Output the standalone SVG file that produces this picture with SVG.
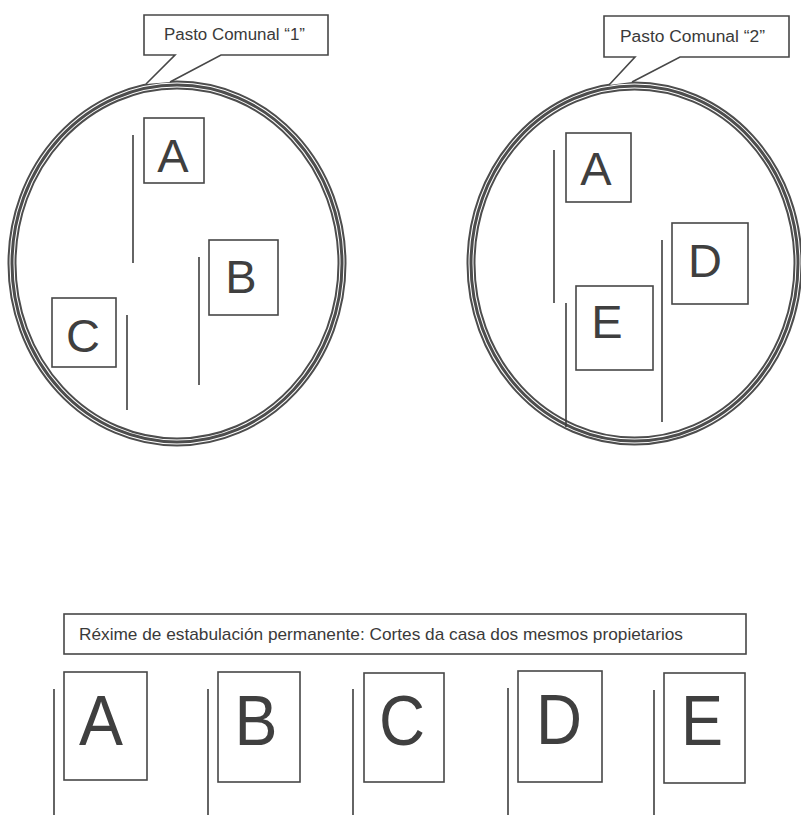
<svg xmlns="http://www.w3.org/2000/svg" width="801" height="815" viewBox="0 0 801 815">
<style>
.bg{fill:#ffffff}
.box{fill:#ffffff;stroke:#474747;stroke-width:1.6}
.call{fill:#ffffff;stroke:#474747;stroke-width:1.6;stroke-linejoin:miter}
.ringA{fill:none;stroke:#4d4d4d;stroke-width:9}
.ringB{fill:none;stroke:#ffffff;stroke-width:5}
.ringC{fill:none;stroke:#4d4d4d;stroke-width:3}
.ln{stroke:#3e3e3e;stroke-width:1.6;fill:none}
.lbl{font-family:"Liberation Sans",Arial,sans-serif;font-size:16px;fill:#3a3a3a}
.big{font-family:"Liberation Sans",Arial,sans-serif;font-size:47px;fill:#3f3f3f;text-anchor:middle}
.huge{font-family:"Liberation Sans",Arial,sans-serif;font-size:70px;fill:#3f3f3f;text-anchor:middle}
</style>
<rect class="bg" x="0" y="0" width="801" height="815"/>

<g id="pasto1">
  <ellipse class="ringA" cx="177" cy="263.5" rx="165" ry="178.5"/>
  <ellipse class="ringB" cx="177" cy="263.5" rx="165" ry="178.5"/>
  <ellipse class="ringC" cx="177" cy="263.5" rx="165" ry="178.5"/>
</g>
<g id="pasto2">
  <ellipse class="ringA" cx="634.5" cy="263.5" rx="163.5" ry="177.5"/>
  <ellipse class="ringB" cx="634.5" cy="263.5" rx="163.5" ry="177.5"/>
  <ellipse class="ringC" cx="634.5" cy="263.5" rx="163.5" ry="177.5"/>
</g>

<g id="label1">
  <path class="call" d="M146,84 L175,55 L144,55 L144,15 L328,15 L328,55 L221,55 L170,82"/>
  <text class="lbl" x="164" y="40" textLength="141" lengthAdjust="spacingAndGlyphs">Pasto Comunal “1”</text>
</g>
<g id="label2">
  <path class="call" d="M609,85 L635,57 L604,57 L604,16 L789,16 L789,57 L680,57 L632,82"/>
  <text class="lbl" x="620" y="42" textLength="145" lengthAdjust="spacingAndGlyphs">Pasto Comunal “2”</text>
</g>

<g id="p1-A"><rect class="box" x="144" y="118" width="60" height="65"/><text class="big" x="173" y="172">A</text></g>
<g id="p1-B"><rect class="box" x="209" y="240" width="69" height="75"/><text class="big" x="241" y="293">B</text></g>
<g id="p1-C"><rect class="box" x="52" y="298" width="64" height="69"/><text class="big" x="83" y="352">C</text></g>

<g id="p2-A"><rect class="box" x="566" y="133" width="65" height="69"/><text class="big" x="596" y="185">A</text></g>
<g id="p2-D"><rect class="box" x="672" y="223" width="76" height="81"/><text class="big" x="705" y="277">D</text></g>
<g id="p2-E"><rect class="box" x="576" y="286" width="77" height="84"/><text class="big" x="607" y="338">E</text></g>

<g id="banner">
  <rect class="box" x="64" y="614" width="682" height="40"/>
  <text class="lbl" x="79" y="640" style="font-size:17px" textLength="604" lengthAdjust="spacingAndGlyphs">Réxime de estabulación permanente: Cortes da casa dos mesmos propietarios</text>
</g>

<g id="casa-A"><rect class="box" x="64" y="672" width="83" height="108"/><text class="huge" x="101" y="745" textLength="44" lengthAdjust="spacingAndGlyphs">A</text></g>
<g id="casa-B"><rect class="box" x="218" y="672" width="82" height="110"/><text class="huge" x="256" y="745" textLength="43" lengthAdjust="spacingAndGlyphs">B</text></g>
<g id="casa-C"><rect class="box" x="364" y="673" width="80" height="109"/><text class="huge" x="402" y="745" textLength="46" lengthAdjust="spacingAndGlyphs">C</text></g>
<g id="casa-D"><rect class="box" x="518" y="671" width="84" height="111"/><text class="huge" x="559" y="744" textLength="46" lengthAdjust="spacingAndGlyphs">D</text></g>
<g id="casa-E"><rect class="box" x="664" y="673" width="81" height="110"/><text class="huge" x="702" y="745" textLength="42" lengthAdjust="spacingAndGlyphs">E</text></g>

<g id="connectors">
  <line class="ln" x1="133" y1="135" x2="133" y2="263"/>
  <line class="ln" x1="199" y1="257" x2="199" y2="385"/>
  <line class="ln" x1="127" y1="315" x2="127" y2="410"/>
  <line class="ln" x1="554" y1="150" x2="554" y2="303"/>
  <line class="ln" x1="662" y1="240" x2="662" y2="422"/>
  <line class="ln" x1="566" y1="303" x2="566" y2="427"/>
  <line class="ln" x1="54" y1="689" x2="54" y2="815"/>
  <line class="ln" x1="208" y1="689" x2="208" y2="815"/>
  <line class="ln" x1="353" y1="689" x2="353" y2="815"/>
  <line class="ln" x1="508" y1="688" x2="508" y2="815"/>
  <line class="ln" x1="654" y1="690" x2="654" y2="815"/>
</g>
</svg>
